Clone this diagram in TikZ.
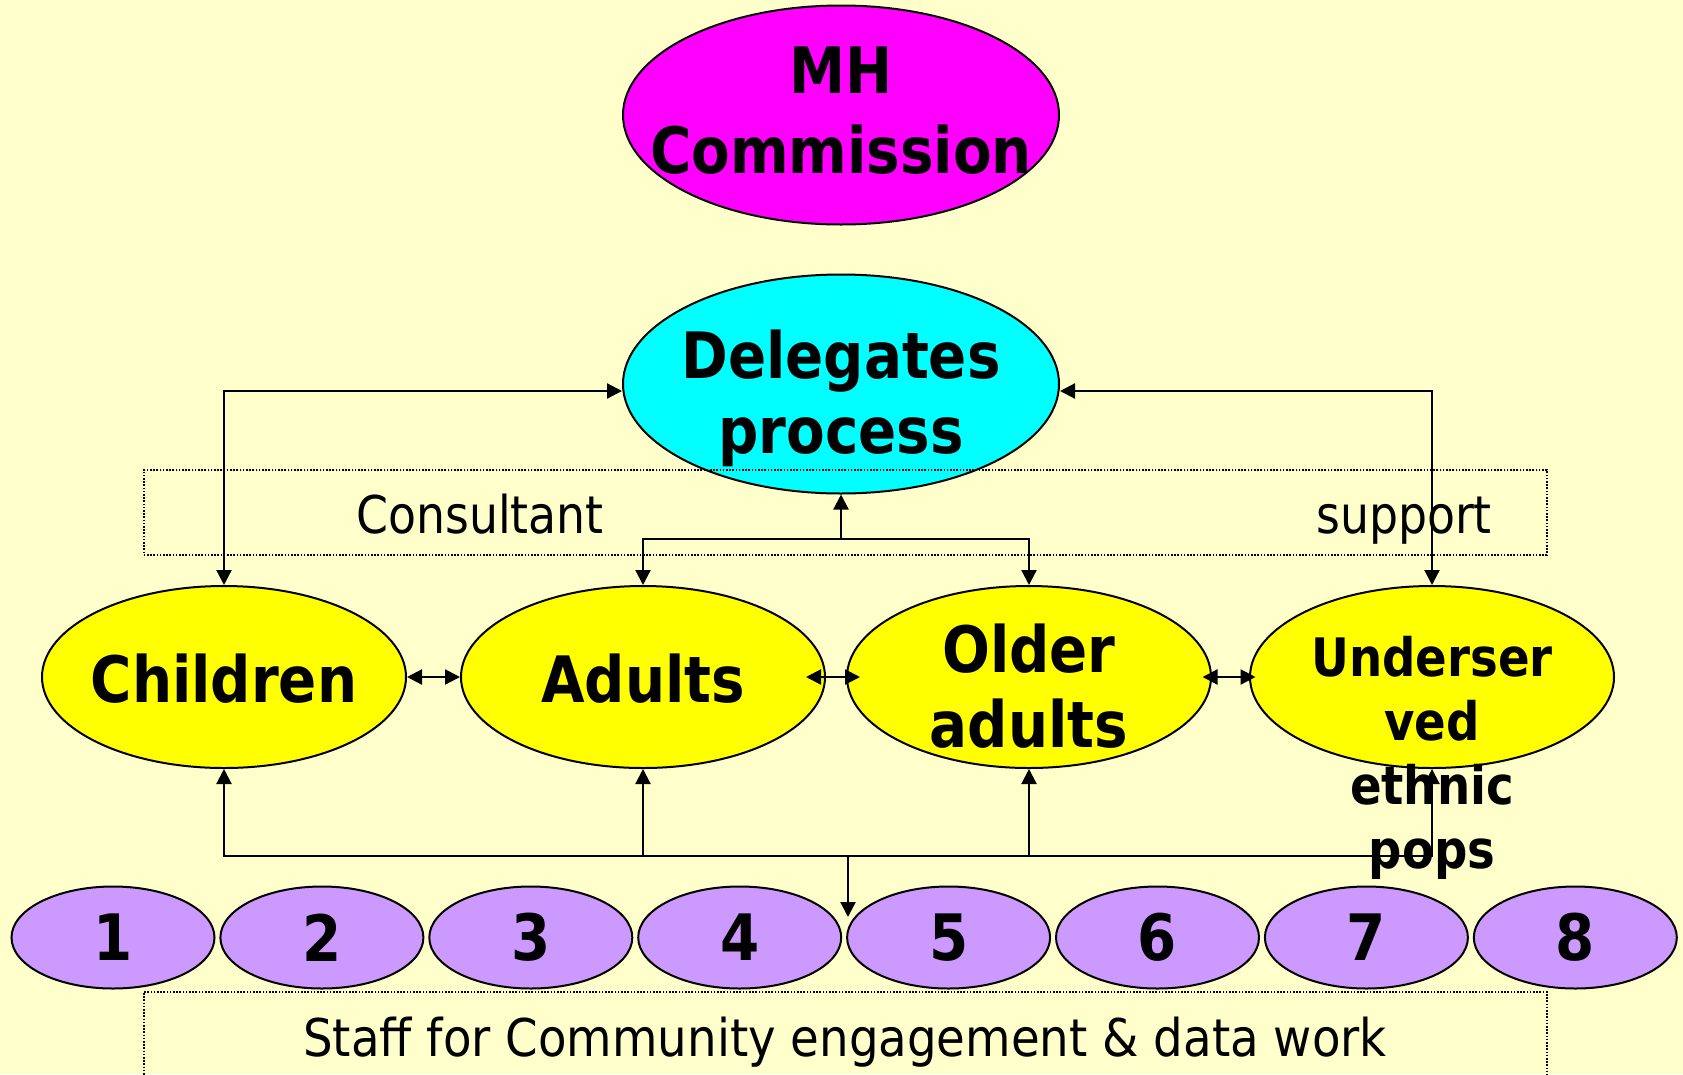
\documentclass[tikz,border=0pt]{standalone}
\usepackage{fontspec}
\setmainfont{DejaVu Sans}[FakeStretch=0.88]
\newfontfamily\bfam{DejaVu Sans}[FakeStretch=0.88]
\usetikzlibrary{shapes.geometric,arrows.meta,calc}
\definecolor{bg}{HTML}{FFFFCC}
\definecolor{mag}{HTML}{FF00FF}
\definecolor{cy}{HTML}{00FFFF}
\definecolor{yel}{HTML}{FFFF00}
\definecolor{pur}{HTML}{CC99FF}
\newcommand\bigbold{\bfam\bfseries\fontsize{64}{75}\selectfont}
\newcommand\mhbold{\bfam\bfseries\fontsize{64}{80}\selectfont}
\newcommand\midbold{\bfam\bfseries\fontsize{53}{64}\selectfont}
\newcommand\regtext{\fontsize{52}{60}\selectfont}
\begin{document}
\begin{tikzpicture}[x=1pt,y=-1pt,
  oval/.style={ellipse, draw=black, line width=2pt, inner sep=0pt},
  bigoval/.style={oval, minimum width=436pt, minimum height=219pt},
  groupoval/.style={oval, fill=yel, minimum width=364pt, minimum height=182pt},
  numoval/.style={oval, fill=pur, minimum width=203pt, minimum height=102pt},
  conn/.style={line width=2.2pt, -{Triangle[length=15pt,width=15pt]}},
  dconn/.style={line width=2.2pt, {Triangle[length=15pt,width=15pt]}-{Triangle[length=15pt,width=15pt]}},
  dotbox/.style={draw, line width=1.6pt, dash pattern=on 1.6pt off 1.6pt, inner sep=0pt},
  bigtxt/.style={font=\bigbold, align=center, inner sep=0pt},
  midtxt/.style={font=\midbold, align=center, inner sep=0pt},
  regtxt/.style={font=\regtext, inner sep=0pt, anchor=base},
  ]
\fill[bg] (0,0) rectangle (1683,1074);
\useasboundingbox (0,0) rectangle (1683,1074);
\clip (0,0) rectangle (1683,1074);

% ovals
\node[bigoval, fill=mag] (mh) at (841,115) {};
\node[bigoval, fill=cy] (del) at (841,384) {};
\node[groupoval] (ch) at (224,677) {};
\node[groupoval] (ad) at (643,677) {};
\node[groupoval] (old) at (1029,677) {};
\node[groupoval] (und) at (1432,677) {};
\foreach \i in {1,...,8} {
  \node[numoval] (n\i) at ({113+(\i-1)*208.9},937.5) {};
  \node[bigtxt] (t\i) at (n\i) {\i};
}

% dotted boxes
\node[dotbox, anchor=north west, minimum width=1403pt, minimum height=85pt] (cbox) at (143,469) {};
\node[dotbox, anchor=north west, minimum width=1403pt, minimum height=140pt] (sbox) at (143,991) {};

% texts
\node[bigtxt, font=\mhbold] (mhtext) at (841,111) {MH\\Commission};
\node[bigtxt] (deltext) at (841,398) {Delegates\\process};
\node[bigtxt] (chtext) at (224,679) {Children};
\node[bigtxt] (adtext) at (643,679) {Adults};
\node[bigtxt] (oldtext) at (1029,686) {Older\\adults};
\node[midtxt] (undtext) at (1432,758) {Underser\\ved\\ethnic\\pops};
\node[regtxt] (cons) at (480,533) {Consultant};
\node[regtxt] (supp) at (1404,533) {support};
\node[regtxt] (staff) at (845,1056) {\scalebox{1.02}[1]{Staff for Community engagement \& data work}};

% connectors
\draw[dconn] (ch.north) |- ([yshift=-7pt]del.west);
\draw[dconn] (und.north) |- ([yshift=-7pt]del.east);
\coordinate (br) at (841,539);
\draw[conn] (br) -- (del.south);
\draw[conn] (br) -| (ad.north);
\draw[conn] (br) -| (old.north);
\draw[dconn] (ch.east) -- (ad.west);
\draw[dconn] ($(ad.east)!0.5!(old.west)+(-30,0)$) -- ($(ad.east)!0.5!(old.west)+(24,0)$);
\draw[dconn] ($(old.east)!0.5!(und.west)+(-28,0)$) -- ($(old.east)!0.5!(und.west)+(25,0)$);
\coordinate (hub) at (848,856);
\coordinate (drop) at (848,917);
\draw[conn] (hub) -| (ch.south);
\draw[conn] (hub) -| (ad.south);
\draw[conn] (hub) -| (old.south);
\draw[conn] (hub) -| (und.south);
\draw[conn] (hub) -- (drop);
\end{tikzpicture}
\end{document}
